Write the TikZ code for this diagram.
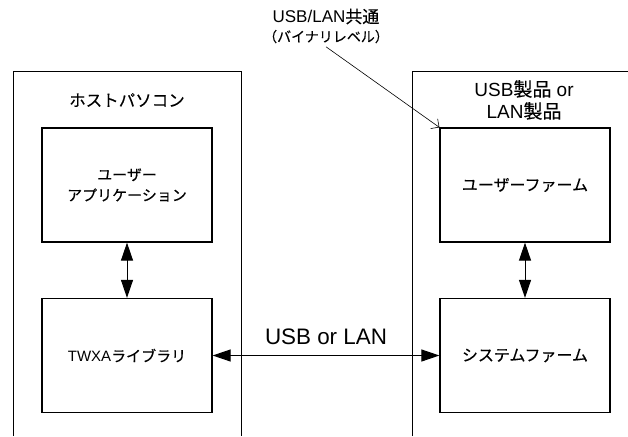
\documentclass[tikz,border=0pt]{standalone}
\usepackage{fontspec}
\setmainfont{Liberation Sans}
\newfontfamily\jpfont[FakeBold=0.3]{Noto Sans CJK JP}
\newcommand\ja[1]{{\jpfont #1}}
\usepackage{tikz}
\usetikzlibrary{arrows.meta}

\begin{document}
\begin{tikzpicture}[x=1pt,y=-1pt,
  block/.style={draw, line width=1.2pt, minimum width=170pt, minimum height=114pt, align=center, font=\jpfont\fontsize{15}{20.5}\selectfont, inner sep=0pt},
  title/.style={align=center, font=\fontsize{19}{22}\selectfont},
  link/.style={{Triangle[length=18pt,width=12pt]}-{Triangle[length=18pt,width=12pt]}, line width=1pt}]
\useasboundingbox (0,0) rectangle (628,436);

\draw[line width=1pt] (13,436) -- (13,71) -- (241,71) -- (241,436);
\draw[line width=1pt] (412,436) -- (412,71) -- (628,71);

\node[title, font=\jpfont\fontsize{16.5}{22}\selectfont] (host) at (127,100) {ホストパソコン};
\node[title] (device) at (524,100) {USB\ja{製品} or\\LAN\ja{製品}};

\node[block] (userapp) at (127,185) {ユーザー\\アプリケーション};
\node[block] (library) at (127,355.5) {\rmfamily TWXA\ja{ライブラリ}};
\node[block, font=\jpfont\fontsize{16}{20}\selectfont] (userfirm) at (525,185) {ユーザーファーム};
\node[block, font=\jpfont\fontsize{16}{20}\selectfont] (sysfirm) at (525,355.5) {システムファーム};

\node[align=center, font=\fontsize{17}{19}\selectfont] (common) at (326,26) {USB/LAN\ja{共通}\\\ja{\fontsize{14}{19}\selectfont （バイナリレベル）}};

\draw[link] (userapp) -- (library);
\draw[link] (userfirm) -- (sysfirm);
\draw[link] (library) -- (sysfirm) node[midway, above=7pt, font=\fontsize{22.4}{24}\selectfont] (bus) {USB or LAN};

\draw[-{Straight Barb[length=6pt]}, line width=0.6pt] (common.south) -- (userfirm.north west);
\end{tikzpicture}
\end{document}
